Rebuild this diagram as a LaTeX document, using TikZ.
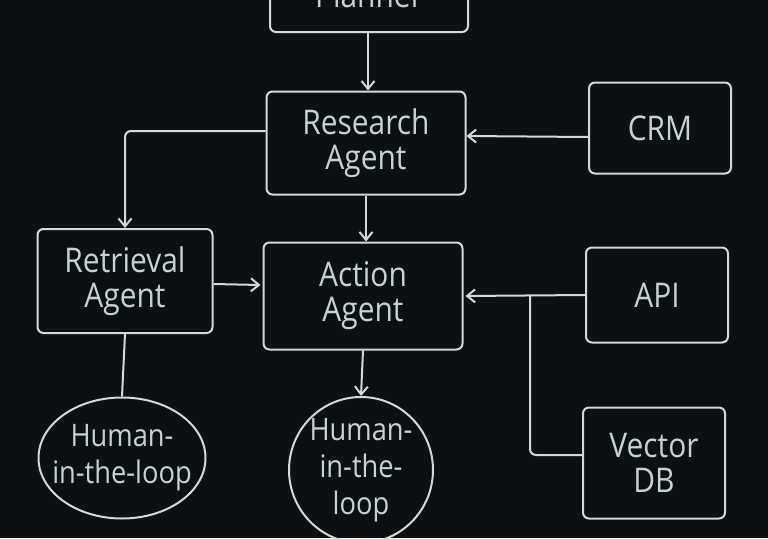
\documentclass[tikz,border=0pt]{standalone}
\usepackage{fontspec}
\setmainfont[FakeStretch=0.88]{Open Sans}
\usetikzlibrary{arrows.meta,shapes.geometric}
\definecolor{bg}{HTML}{0B1014}
\definecolor{lc}{HTML}{D3D9D9}
\definecolor{tc}{HTML}{C8D2D2}
\begin{document}
\begin{tikzpicture}[x=1pt,y=-1pt,
  box/.style={draw=lc, line width=2pt, rounded corners=6pt, text=tc, align=center,
    font=\fontsize{34}{35}\selectfont, inner sep=0pt},
  oval/.style={draw=lc, line width=2pt, ellipse, text=tc, align=center,
    font=\fontsize{31}{37}\selectfont, inner sep=-14pt},
  conn/.style={draw=lc, line width=2pt, rounded corners=6pt},
  arr/.style={conn, -{Straight Barb[length=8pt,width=13pt,line width=2pt]}}]
\useasboundingbox (0,0) rectangle (768,538);
\fill[bg] (0,0) rectangle (768,538);
\clip (0,0) rectangle (768,538);

\node[box, minimum width=198pt, minimum height=74pt] (planner) at (369,-5) {Planner};
\node[box, minimum width=199pt, minimum height=103pt] (research) at (366,143) {Research\\Agent};
\node[box, minimum width=142pt, minimum height=91pt] (crm) at (660,128) {CRM};
\node[box, minimum width=175pt, minimum height=104pt] (retrieval) at (125,281) {Retrieval\\Agent};
\node[box, minimum width=199pt, minimum height=107pt] (action) at (363,296) {Action\\Agent};
\node[box, minimum width=142pt, minimum height=95pt] (api) at (657,295) {API};
\node[box, minimum width=142pt, minimum height=111pt] (vdb) at (654,463) {Vector\\DB};
\node[oval, minimum width=167pt, minimum height=121pt] (hitl1) at (122,458) {Human-\\in-the-loop};
\node[oval, minimum width=144pt, minimum height=146pt] (hitl2) at (361,470) {Human-\\in-the-\\loop};

\coordinate (j) at (530,296);

\draw[arr] (planner.south -| 368,0) -- (research.north -| 368,0);
\draw[arr] ([yshift=12pt]research.west) -| (retrieval.north);
\draw[arr] (research.south) -- (action.north -| research.south);
\draw[arr] ([yshift=-9pt]crm.west) -- ([yshift=7pt]research.east);
\draw[arr] ([yshift=-3pt]retrieval.east) -- ([xshift=-2pt,yshift=11pt]action.west);
\draw[arr] (api.west) -- ([xshift=2pt]action.east);
\draw[conn] ([yshift=8pt]vdb.west) -| (j);
\draw[conn] (retrieval.south) -- (hitl1.north);
\draw[arr] (action.south) -- (hitl2.north);
\end{tikzpicture}
\end{document}
